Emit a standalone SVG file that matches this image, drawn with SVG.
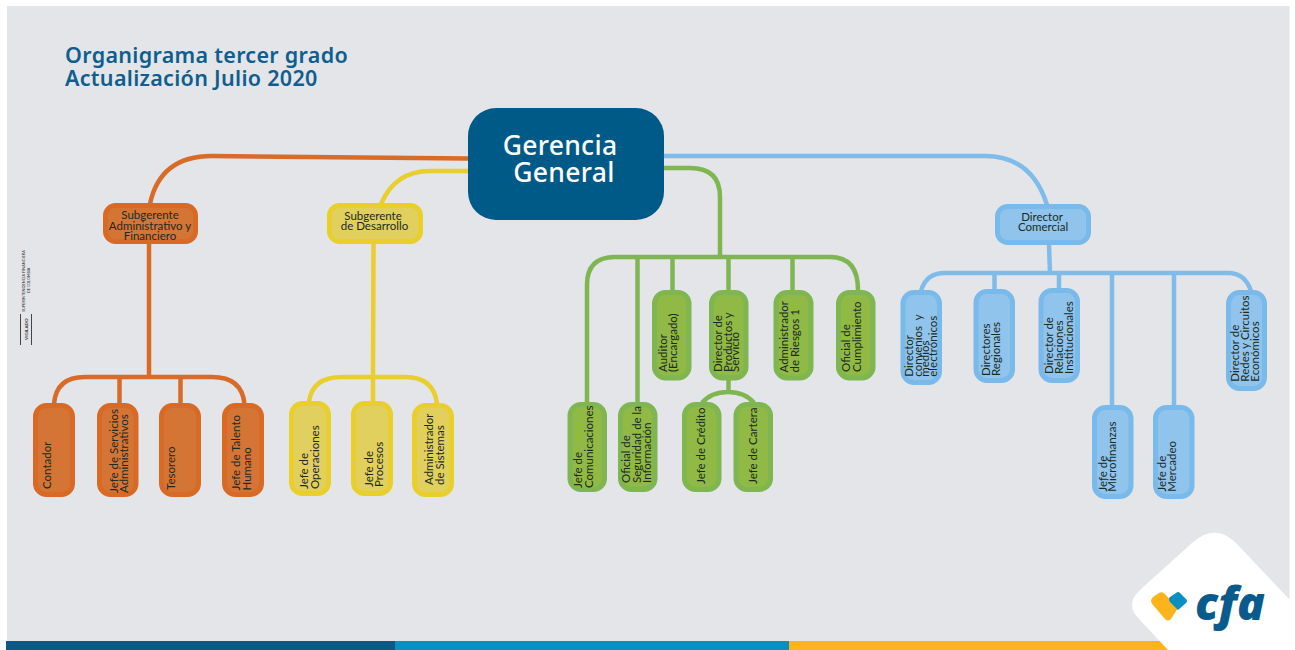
<svg xmlns="http://www.w3.org/2000/svg" width="1295" height="650" viewBox="0 0 1295 650">
<style>
.ln{fill:none;stroke-width:4.5;stroke-linecap:butt}
.lo{stroke:#d96b29}.ly{stroke:#e8cf2e}.lg{stroke:#7fb651}.lb{stroke:#7fbcea}
.n{stroke-width:5}
.o{fill:#d47536;stroke:#d96a26}.y{fill:#e2d05e;stroke:#e8cf2c}.g{fill:#90b945;stroke:#7fb651}.b{fill:#90c4ec;stroke:#79baea}
text{font-family:"Lato","Open Sans",sans-serif;fill:#1c2a22}
.t{font-size:11.5px}
.c{text-anchor:middle}
.title{font-family:"Noto Sans",sans-serif;font-size:21.5px;font-weight:600;fill:#0f5e8e;letter-spacing:.3px}
.gg{font-family:"Noto Sans",sans-serif;font-size:26.500px;font-weight:500;fill:#fff;text-anchor:middle;letter-spacing:.3px}
.vs{font-size:3.700px;fill:#333}
</style>
<rect width="1295" height="650" fill="#fff"/>
<rect x="7" y="6" width="1282.500" height="644" fill="#e4e5e9"/>
<rect x="6" y="641" width="389" height="9" fill="#0b5a86"/>
<rect x="395" y="641" width="394" height="9" fill="#0a8fc0"/>
<rect x="789" y="641" width="380" height="9" fill="#fbb41c"/>
<path id="logo-bg" d="M1290 600L1236 543Q1215 522 1192 543L1140 590Q1124 605 1140 620L1168 650H1290Z" fill="#fff"/>
<g id="logo">
<path d="M1153 597L1159 593Q1162 591 1165 594L1178 608L1171 619Q1168 622 1165 619L1153 605Q1149 601 1153 597Z" fill="#fbb41c"/>
<path d="M1170 602Q1168 599 1170 597L1176 593Q1178 591 1180 593L1186 599Q1188 601 1186 603L1178 610Z" fill="#0a8fc0"/>
<text x="1195" y="620" style="font-family:'Open Sans',sans-serif;font-size:46px;font-weight:800;font-style:italic;fill:#0b5a8c">cfa</text>
</g>
<g id="vigilado">
<path d="M20.500 314V345M31.500 314V345" stroke="#444" stroke-width="1" fill="none"/>
<text class="vs" transform="translate(28 340) rotate(-90)" style="font-size:4.500px;font-weight:700">VIGILADO</text>
<text class="vs" transform="translate(25 312) rotate(-90)" style="font-size:3.900px">SUPERINTENDENCIA FINANCIERA</text>
<text class="vs" transform="translate(30 293) rotate(-90)">DE COLOMBIA</text>
</g>
<text class="title" x="65" y="63">Organigrama tercer grado</text>
<text class="title" x="65" y="86">Actualización Julio 2020</text>
<g id="connectors">
<path class="ln lo" d="M468 158.500L212 156Q160 156 150 204M149 244V377M54 404Q56 377 85 377H212Q242 377 244.500 404M119.500 377V404M180.500 377V404"/>
<path class="ln ly" d="M468 171H430Q395 171 381 204M373.500 244L373 377M309 402Q312 377 342 377H405Q434 377 437 404M373 377V402"/>
<path class="ln lg" d="M664 168H690Q720 168 720 197V257M587 402V285Q587 257 615 257H830Q858 257 858 290M637.500 257V402M672.500 257V291M728.500 257V291M792.500 257V291M728.500 380V392M702 403Q711 392 728 392Q745 392 754 403"/>
<path class="ln lb" d="M664 156H985Q1032 156 1047 205M1049 245L1050 273M921 291Q926 273 945 273H1228Q1245 273 1251 291M994.500 273V290M1059 273V289M1112 273V406M1174 273V406"/>
</g>
<g id="gerencia"><rect x="468" y="108" width="196" height="112" rx="28" fill="#005a88"/>
<text class="gg"><tspan x="560" y="155">Gerencia</tspan><tspan x="564" y="182">General</tspan></text></g>

<g id="sub-adm"><rect class="n o" x="105.500" y="205.500" width="90" height="36" rx="10"/>
<text class="t c"><tspan x="150" y="219">Subgerente</tspan><tspan x="150" y="229.500">Administrativo y</tspan><tspan x="150" y="240">Financiero</tspan></text></g>
<g id="sub-des"><rect class="n y" x="329.500" y="205.500" width="91" height="36" rx="10"/>
<text class="t c"><tspan x="373" y="220">Subgerente</tspan><tspan x="374.500" y="230">de Desarrollo</tspan></text></g>
<g id="dir-com"><rect class="n b" x="997.500" y="206.500" width="91" height="36" rx="10"/>
<text class="t c"><tspan x="1042" y="220.700">Director</tspan><tspan x="1043" y="230.700">Comercial</tspan></text></g>

<g id="contador"><rect class="n o" x="35.500" y="405.500" width="37" height="89" rx="11"/>
<text class="t" transform="translate(51 489) rotate(-90)">Contador</text></g>
<g id="servicios"><rect class="n o" x="99.500" y="405.500" width="36.500" height="89" rx="11"/>
<text class="t" transform="translate(118 493) rotate(-90)"><tspan x="0" y="0">Jefe de Servicios</tspan><tspan x="0" y="10">Administrativos</tspan></text></g>
<g id="tesorero"><rect class="n o" x="161.500" y="405.500" width="37" height="89" rx="11"/>
<text class="t" transform="translate(175 490) rotate(-90)">Tesorero</text></g>
<g id="talento"><rect class="n o" x="224.500" y="405.500" width="37" height="89" rx="11"/>
<text class="t" transform="translate(240 490.500) rotate(-90)"><tspan x="0" y="0">Jefe de Talento</tspan><tspan x="0" y="10.500">Humano</tspan></text></g>

<g id="operaciones"><rect class="n y" x="291.500" y="403.500" width="37" height="90" rx="11"/>
<text class="t" transform="translate(308 489) rotate(-90)"><tspan x="0" y="0">Jefe de</tspan><tspan x="0" y="11">Operaciones</tspan></text></g>
<g id="procesos"><rect class="n y" x="353.500" y="403.500" width="37" height="90" rx="11"/>
<text class="t" transform="translate(373 487) rotate(-90)"><tspan x="0" y="0">Jefe de</tspan><tspan x="0" y="10">Procesos</tspan></text></g>
<g id="sistemas"><rect class="n y" x="414.500" y="405.500" width="37" height="89" rx="11"/>
<text class="t" transform="translate(433 485) rotate(-90)"><tspan x="0" y="0">Administrador</tspan><tspan x="0" y="11">de Sistemas</tspan></text></g>

<g id="comunicaciones"><rect class="n g" x="570" y="404.500" width="34.500" height="85" rx="11"/>
<text class="t" transform="translate(582 488) rotate(-90)"><tspan x="0" y="0">Jefe de</tspan><tspan x="0" y="10.700">Comunicaciones</tspan></text></g>
<g id="seguridad"><rect class="n g" x="620.500" y="404.500" width="34.500" height="85" rx="11"/>
<text class="t" transform="translate(630 483) rotate(-90)"><tspan x="0" y="0">Oficial de</tspan><tspan x="0" y="10.700">Seguridad de la</tspan><tspan x="0" y="20.700">Información</tspan></text></g>
<g id="auditor"><rect class="n g" x="654.500" y="292.500" width="34.500" height="85.500" rx="11"/>
<text class="t" transform="translate(666.700 372) rotate(-90)"><tspan x="0" y="0">Auditor</tspan><tspan x="0" y="10.300">(Encargado)</tspan></text></g>
<g id="productos"><rect class="n g" x="711.500" y="292.500" width="34.500" height="85.500" rx="11"/>
<text class="t" transform="translate(721.700 372) rotate(-90)"><tspan x="0" y="0">Director de</tspan><tspan x="0" y="10">Productos y</tspan><tspan x="0" y="17.800">Servicio</tspan></text></g>
<g id="riesgos"><rect class="n g" x="776" y="292.500" width="35" height="85.500" rx="11"/>
<text class="t" transform="translate(788 372.500) rotate(-90)"><tspan x="0" y="0">Administrador</tspan><tspan x="0" y="11">de Riesgos 1</tspan></text></g>
<g id="cumplimiento"><rect class="n g" x="838.500" y="292.500" width="34.500" height="85.500" rx="11"/>
<text class="t" transform="translate(850 372) rotate(-90)"><tspan x="0" y="0">Oficial de</tspan><tspan x="0" y="10.700">Cumplimiento</tspan></text></g>
<g id="credito"><rect class="n g" x="684.500" y="404.500" width="34.500" height="85" rx="11"/>
<text class="t" transform="translate(705 484) rotate(-90)">Jefe de Crédito</text></g>
<g id="cartera"><rect class="n g" x="736" y="404.500" width="34.500" height="85" rx="11"/>
<text class="t" transform="translate(757.300 484) rotate(-90)">Jefe de Cartera</text></g>

<g id="convenios"><rect class="n b" x="903" y="292.500" width="36.500" height="90" rx="11"/>
<text class="t" transform="translate(913 376.700) rotate(-90)" style="word-spacing:3px"><tspan x="0" y="0">Director</tspan><tspan x="0" y="8.500">convenios y</tspan><tspan x="0" y="16">medios</tspan><tspan x="0" y="23.700">electrónicos</tspan></text></g>
<g id="regionales"><rect class="n b" x="976" y="291.500" width="36.500" height="89" rx="11"/>
<text class="t" transform="translate(990 376) rotate(-90)"><tspan x="0" y="0">Directores</tspan><tspan x="0" y="10">Regionales</tspan></text></g>
<g id="relaciones"><rect class="n b" x="1041" y="290.500" width="36.500" height="90" rx="11"/>
<text class="t" transform="translate(1052.700 374) rotate(-90)"><tspan x="0" y="0">Director de</tspan><tspan x="0" y="10">Relaciones</tspan><tspan x="0" y="20">Institucionales</tspan></text></g>
<g id="microfinanzas"><rect class="n b" x="1094.500" y="407.500" width="36.500" height="89" rx="11"/>
<text class="t" transform="translate(1106.700 491.700) rotate(-90)"><tspan x="0" y="0">Jefe de</tspan><tspan x="0" y="9">Microfinanzas</tspan></text></g>
<g id="mercadeo"><rect class="n b" x="1155.500" y="407.500" width="36.500" height="89" rx="11"/>
<text class="t" transform="translate(1166 491.700) rotate(-90)"><tspan x="0" y="0">Jefe de</tspan><tspan x="0" y="10">Mercadeo</tspan></text></g>
<g id="redes"><rect class="n b" x="1228.500" y="292.500" width="36" height="96" rx="11"/>
<text class="t" transform="translate(1239.300 381.700) rotate(-90)"><tspan x="0" y="0">Director de</tspan><tspan x="0" y="10">Redes y Circuitos</tspan><tspan x="0" y="20">Económicos</tspan></text></g>
</svg>
